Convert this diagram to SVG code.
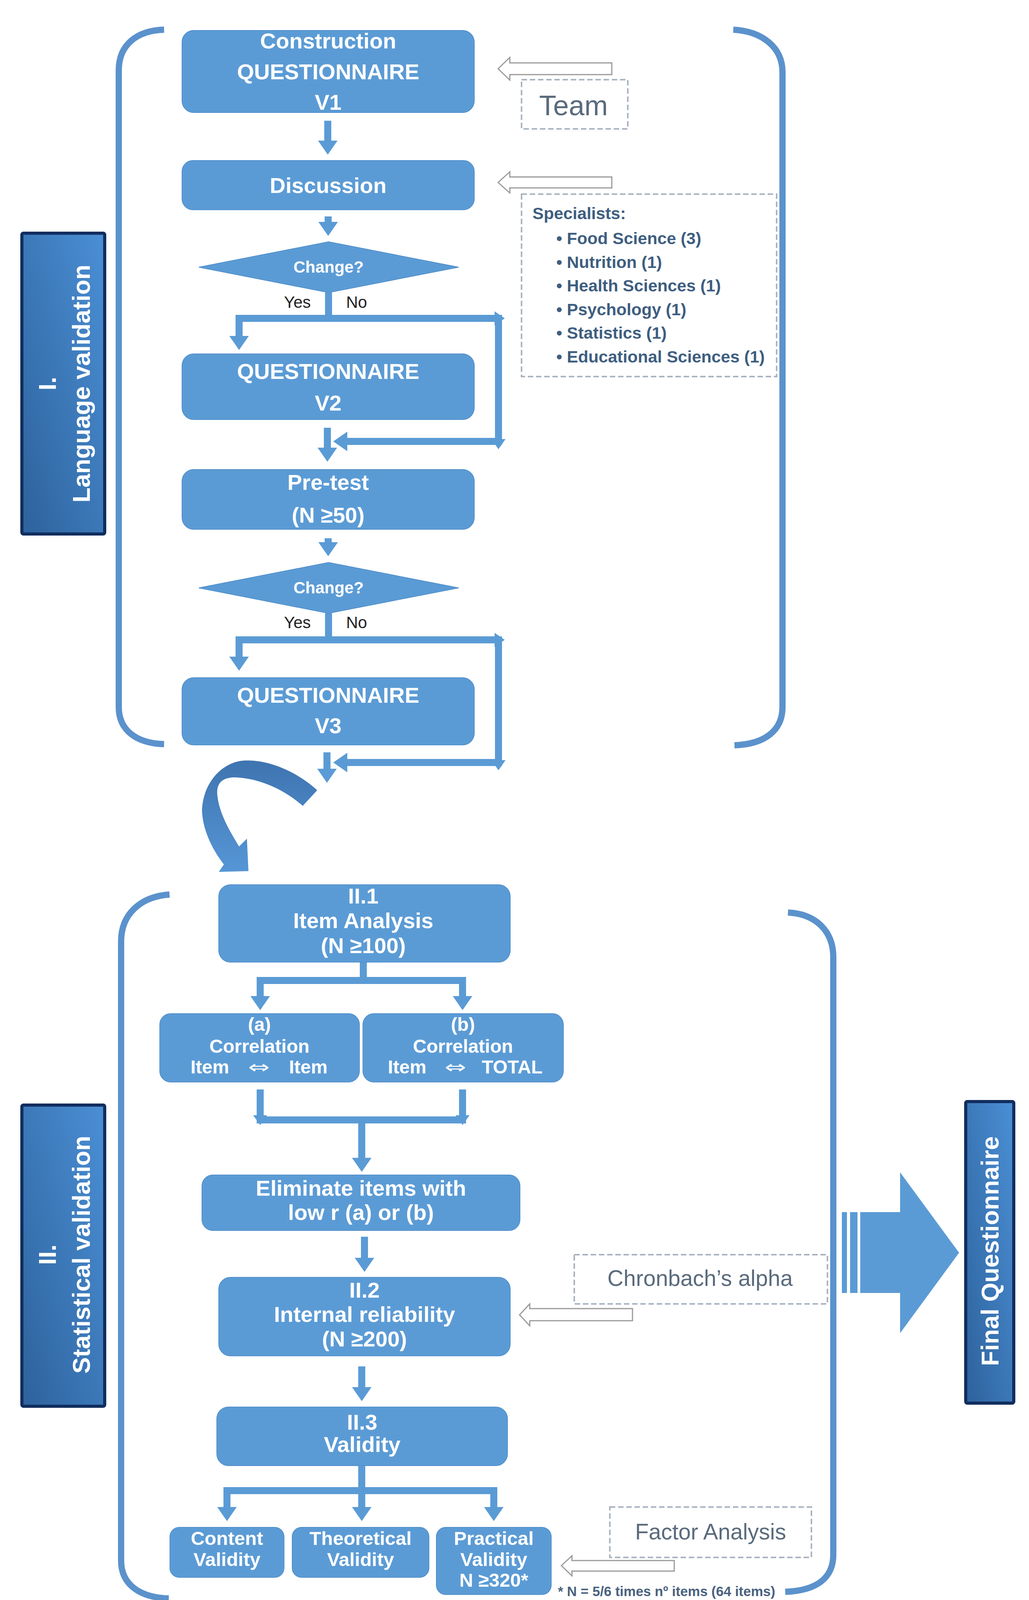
<svg xmlns="http://www.w3.org/2000/svg" width="2634" height="4222" viewBox="0 0 2634 4222">
<defs>
<style>
.box{fill:#5b9bd5;stroke:#5290cc;stroke-width:2}
.bt{font-family:"Liberation Sans",Arial,"DejaVu Sans",sans-serif;font-weight:bold;fill:#ffffff;text-anchor:middle}
.arr{font-family:"DejaVu Sans",sans-serif;font-weight:normal;fill:#ffffff;text-anchor:middle;font-size:44px}
.conn{fill:none;stroke:#5b9bd5;stroke-width:18;stroke-linejoin:miter}
.brk{fill:none;stroke:#5b92cc;stroke-width:16;stroke-linecap:butt}
.dash{fill:#ffffff;stroke:#aab5c1;stroke-width:4;stroke-dasharray:14 7}
.hol{fill:#ffffff;stroke:#9a9a9a;stroke-width:3}
.note{font-family:"Liberation Sans",Arial,sans-serif;fill:#5a6b7d;text-anchor:middle}
.spec{font-family:"Liberation Sans",Arial,sans-serif;font-weight:bold;fill:#3e5e80;font-size:43px}
.side{fill:url(#sg);stroke:#112d5e;stroke-width:8}
.st{font-family:"Liberation Sans",Arial,sans-serif;font-weight:bold;fill:#ffffff;font-size:63px;text-anchor:middle}
.yn{font-family:"Liberation Sans",Arial,sans-serif;fill:#222222;font-size:42px}
.sm{fill:#5b9bd5}
</style>
<linearGradient id="sg" x1="0" y1="1" x2="1" y2="0">
<stop offset="0" stop-color="#2d629c"/>
<stop offset="1" stop-color="#4b8fd5"/>
</linearGradient>
<linearGradient id="cg" x1="0" y1="0" x2="0" y2="1">
<stop offset="0" stop-color="#3e74b0"/>
<stop offset="1" stop-color="#5696d6"/>
</linearGradient>
<marker id="ah" viewBox="0 0 36 50" markerWidth="36" markerHeight="50" refX="0" refY="25" markerUnits="userSpaceOnUse" orient="auto">
<path d="M0,0 L36,25 L0,50 Z" fill="#5b9bd5"/>
</marker>
</defs>
<rect width="2634" height="4222" fill="#ffffff"/>

<!-- brackets -->
<g id="brackets">
<path class="brk" d="M 420 76 C 350 78 304 115 304 180 L 304 1810 C 304 1870 350 1903 420 1905"/>
<path class="brk" d="M 1877 76 C 1950 80 2003 120 2003 185 L 2003 1810 C 2003 1870 1958 1905 1880 1908"/>
<path class="brk" d="M 434 2290 C 360 2295 310 2340 310 2410 L 310 3995 C 310 4058 360 4090 432 4092"/>
<path class="brk" d="M 2017 2336 C 2090 2340 2133 2385 2133 2450 L 2133 3980 C 2133 4040 2090 4072 2010 4075"/>
</g>

<!-- side labels -->
<g id="label-language">
<rect class="side" x="56" y="597" width="212" height="770" rx="4"/>
<text class="st" transform="translate(143,982) rotate(-90)">I.</text>
<text class="st" transform="translate(230,982) rotate(-90)">Language validation</text>
</g>
<g id="label-statistical">
<rect class="side" x="56" y="2829" width="212" height="771" rx="4"/>
<text class="st" transform="translate(143,3212) rotate(-90)">II.</text>
<text class="st" transform="translate(230,3212) rotate(-90)">Statistical validation</text>
</g>
<g id="label-final">
<rect class="side" x="2472" y="2820" width="123" height="772" rx="4"/>
<text class="st" transform="translate(2556,3203) rotate(-90)">Final Questionnaire</text>
</g>

<!-- connectors -->
<g id="connectors">
<path class="conn" d="M 839 309 V 360" marker-end="url(#ah)"/>
<path class="conn" d="M 840 554 V 568" marker-end="url(#ah)"/>
<path class="conn" d="M 841 749 V 815 H 612 V 860" marker-end="url(#ah)"/>
<path class="conn" d="M 841 815 H 1276 V 1130 H 889" marker-end="url(#ah)"/>
<polygon class="sm" points="1266,797 1292,815 1266,833"/>
<polygon class="sm" points="1258,1124 1294,1124 1276,1150"/>
<path class="conn" d="M 838 1095 V 1146" marker-end="url(#ah)"/>
<path class="conn" d="M 840 1378 V 1388" marker-end="url(#ah)"/>
<path class="conn" d="M 841 1570 V 1638 H 612 V 1681" marker-end="url(#ah)"/>
<path class="conn" d="M 841 1638 H 1276 V 1952 H 889" marker-end="url(#ah)"/>
<polygon class="sm" points="1266,1620 1292,1638 1266,1656"/>
<polygon class="sm" points="1258,1946 1294,1946 1276,1972"/>
<path class="conn" d="M 837 1926 V 1968" marker-end="url(#ah)"/>

<path d="M 812 2023 C 760 1975 680 1940 615 1948 C 560 1958 520 2010 517 2073 C 518 2120 540 2170 573 2213 L 560 2232 L 636 2230 L 632 2147 L 612 2167 C 585 2122 560 2080 556 2032 C 555 2003 570 1991 600 1990 C 660 1992 722 2017 775 2063 Z" fill="url(#cg)"/>

<path class="conn" d="M 930 2463 V 2510"/>
<path class="conn" d="M 657 2510 H 1193"/>
<path class="conn" d="M 666 2510 V 2550" marker-end="url(#ah)"/>
<path class="conn" d="M 1184 2510 V 2550" marker-end="url(#ah)"/>
<path class="conn" d="M 666 2789 V 2867 H 1184 V 2789"/>
<polygon class="sm" points="648,2855 684,2855 666,2880"/>
<polygon class="sm" points="1166,2855 1202,2855 1184,2880"/>
<path class="conn" d="M 926 2867 V 2964" marker-end="url(#ah)"/>
<path class="conn" d="M 933 3166 V 3220" marker-end="url(#ah)"/>
<path class="conn" d="M 926 3498 V 3551" marker-end="url(#ah)"/>
<path class="conn" d="M 926 3752 V 3858" marker-end="url(#ah)"/>
<path class="conn" d="M 572 3816 H 1273"/>
<path class="conn" d="M 581 3816 V 3858" marker-end="url(#ah)"/>
<path class="conn" d="M 1264 3816 V 3858" marker-end="url(#ah)"/>

<polygon class="hol" points="1275,176 1305,147 1305,161 1566,161 1566,191 1305,191 1305,205"/>
<polygon class="hol" points="1275,467 1305,440 1305,453 1566,453 1566,481 1305,481 1305,494"/>
<polygon class="hol" points="1330,3366 1356,3338 1356,3350 1619,3350 1619,3381 1356,3381 1356,3394"/>
<polygon class="hol" points="1437,4008 1464,3983 1464,3995 1726,3995 1726,4022 1464,4022 1464,4034"/>

<rect x="2155" y="3103" width="13" height="207" fill="#5b9bd5"/>
<rect x="2176" y="3103" width="19" height="207" fill="#5b9bd5"/>
<polygon points="2202,3103 2304,3103 2304,3001 2455,3207 2304,3413 2304,3310 2202,3310" fill="#5b9bd5"/>
</g>

<!-- nodes -->
<g id="n-v1">
<rect class="box" x="466" y="78" width="748" height="210" rx="30"/>
<text class="bt" font-size="56" x="840" y="124">Construction</text>
<text class="bt" font-size="56" x="840" y="203">QUESTIONNAIRE</text>
<text class="bt" font-size="56" x="840" y="281">V1</text>
</g>
<g id="n-discussion">
<rect class="box" x="466" y="411" width="748" height="126" rx="28"/>
<text class="bt" font-size="56" x="840" y="494">Discussion</text>
</g>
<g id="n-change1">
<polygon class="box" points="841,619 1174,684 841,749 509,684"/>
<text class="bt" font-size="42" x="841" y="698">Change?</text>
<text class="yn" x="727" y="788">Yes</text>
<text class="yn" x="886" y="788">No</text>
</g>
<g id="n-v2">
<rect class="box" x="466" y="906" width="748" height="168" rx="30"/>
<text class="bt" font-size="56" x="840" y="970">QUESTIONNAIRE</text>
<text class="bt" font-size="56" x="840" y="1051">V2</text>
</g>
<g id="n-pretest">
<rect class="box" x="466" y="1202" width="748" height="153" rx="30"/>
<text class="bt" font-size="56" x="840" y="1254">Pre-test</text>
<text class="bt" font-size="56" x="840" y="1338">(N ≥50)</text>
</g>
<g id="n-change2">
<polygon class="box" points="841,1440 1174,1505 841,1570 509,1505"/>
<text class="bt" font-size="42" x="841" y="1519">Change?</text>
<text class="yn" x="727" y="1608">Yes</text>
<text class="yn" x="886" y="1608">No</text>
</g>
<g id="n-v3">
<rect class="box" x="466" y="1735" width="748" height="172" rx="30"/>
<text class="bt" font-size="56" x="840" y="1799">QUESTIONNAIRE</text>
<text class="bt" font-size="56" x="840" y="1877">V3</text>
</g>

<g id="n-team">
<rect class="dash" x="1335" y="204" width="272" height="126"/>
<text class="note" font-size="72" x="1468" y="295">Team</text>
</g>
<g id="n-specialists">
<rect class="dash" x="1335" y="497" width="653" height="467"/>
<text class="spec" x="1363" y="561">Specialists:</text>
<text class="spec" x="1424" y="625">• Food Science (3)</text>
<text class="spec" x="1424" y="686">• Nutrition (1)</text>
<text class="spec" x="1424" y="746">• Health Sciences (1)</text>
<text class="spec" x="1424" y="807">• Psychology (1)</text>
<text class="spec" x="1424" y="867">• Statistics (1)</text>
<text class="spec" x="1424" y="928">• Educational Sciences (1)</text>
</g>

<g id="n-item-analysis">
<rect class="box" x="560" y="2265" width="746" height="198" rx="30"/>
<text class="bt" font-size="56" x="930" y="2313">II.1</text>
<text class="bt" font-size="56" x="930" y="2376">Item Analysis</text>
<text class="bt" font-size="56" x="930" y="2440">(N ≥100)</text>
</g>
<g id="n-corr-a">
<rect class="box" x="409" y="2595" width="511" height="175" rx="28"/>
<text class="bt" font-size="48" x="664" y="2639">(a)</text>
<text class="bt" font-size="48" x="664" y="2695">Correlation</text>
<text class="bt" font-size="48" x="537" y="2748">Item</text>
<text class="arr" transform="translate(663,2747) scale(1.5,1)">⇔</text>
<text class="bt" font-size="48" x="789" y="2748">Item</text>
</g>
<g id="n-corr-b">
<rect class="box" x="929" y="2595" width="513" height="175" rx="28"/>
<text class="bt" font-size="48" x="1185" y="2639">(b)</text>
<text class="bt" font-size="48" x="1185" y="2695">Correlation</text>
<text class="bt" font-size="48" x="1042" y="2748">Item</text>
<text class="arr" transform="translate(1166,2747) scale(1.5,1)">⇔</text>
<text class="bt" font-size="48" x="1311" y="2748">TOTAL</text>
</g>
<g id="n-eliminate">
<rect class="box" x="517" y="3008" width="814" height="142" rx="28"/>
<text class="bt" font-size="56" x="924" y="3061">Eliminate items with</text>
<text class="bt" font-size="56" x="924" y="3123">low r (a) or (b)</text>
</g>
<g id="n-reliability">
<rect class="box" x="560" y="3270" width="746" height="201" rx="30"/>
<text class="bt" font-size="56" x="933" y="3322">II.2</text>
<text class="bt" font-size="56" x="933" y="3384">Internal reliability</text>
<text class="bt" font-size="56" x="933" y="3447">(N ≥200)</text>
</g>
<g id="n-chronbach">
<rect class="dash" x="1470" y="3212" width="648" height="126"/>
<text class="note" font-size="57" x="1792" y="3292">Chronbach’s alpha</text>
</g>
<g id="n-validity">
<rect class="box" x="555" y="3602" width="744" height="150" rx="30"/>
<text class="bt" font-size="56" x="927" y="3660">II.3</text>
<text class="bt" font-size="56" x="927" y="3717">Validity</text>
</g>
<g id="n-content">
<rect class="box" x="435" y="3910" width="292" height="128" rx="24"/>
<text class="bt" font-size="49" x="581" y="3955">Content</text>
<text class="bt" font-size="49" x="581" y="4009">Validity</text>
</g>
<g id="n-theoretical">
<rect class="box" x="748" y="3910" width="350" height="128" rx="24"/>
<text class="bt" font-size="49" x="923" y="3955">Theoretical</text>
<text class="bt" font-size="49" x="923" y="4009">Validity</text>
</g>
<g id="n-practical">
<rect class="box" x="1117" y="3910" width="294" height="172" rx="24"/>
<text class="bt" font-size="49" x="1264" y="3955">Practical</text>
<text class="bt" font-size="49" x="1264" y="4009">Validity</text>
<text class="bt" font-size="49" x="1264" y="4062">N ≥320*</text>
</g>
<g id="n-factor">
<rect class="dash" x="1561" y="3858" width="516" height="129"/>
<text class="note" font-size="57" x="1819" y="3941">Factor Analysis</text>
</g>
<g id="n-footnote">
<text font-family="Liberation Sans, Arial, sans-serif" font-weight="bold" font-size="35" fill="#4a6280" x="1428" y="4086">* N = 5/6 times nº items (64 items)</text>
</g>
</svg>
